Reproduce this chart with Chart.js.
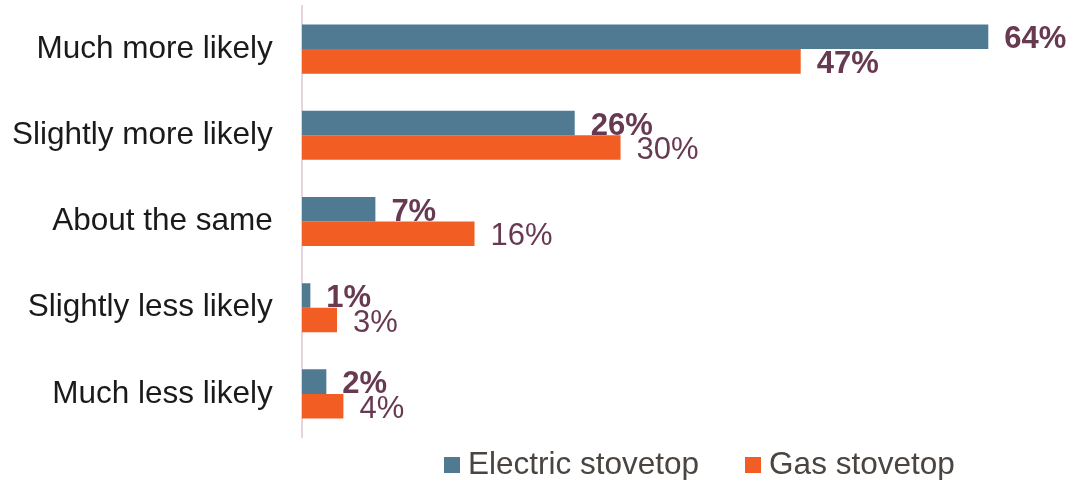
<!DOCTYPE html>
<html>
<head>
<meta charset="utf-8">
<script src="https://cdn.jsdelivr.net/npm/chart.js@4"></script>
<style>
    html, body { margin: 0; padding: 0; background: #fff; }
    .chart-box { width: 1072px; height: 480px; position: relative; }
    .legend { position: absolute; left: 444px; top: 445px; display: flex; align-items: center;
              font-family: "Liberation Sans", Arial, sans-serif; font-size: 31.5px; color: #4A4540; }
    .legend .item { display: flex; align-items: center; margin-right: 46px; }
    .legend .swatch { width: 16px; height: 16px; margin-right: 8px; margin-top: 2px; }
</style>
</head>
<body>
<div class="chart-box"><canvas id="chart"></canvas><div class="legend" id="legend"></div></div>
<script>
// data
const categories = ['Much more likely', 'Slightly more likely', 'About the same', 'Slightly less likely', 'Much less likely'];
const electricValues = [64.4, 25.6, 6.9, 0.8, 2.3];
const gasValues = [46.8, 29.9, 16.2, 3.3, 3.9];
const seriesNames = ['Electric stovetop', 'Gas stovetop'];

const COLORS = ['#507A92', '#F15D22'];
const LABEL_COLOR = '#673A51';
const FONT = '"Liberation Sans", Arial, sans-serif';
// which value labels are drawn bold, per series
const BOLD = [[true, true, true, true, true], [true, false, false, false, false]];

// draws the value label at the end of each bar
const valueLabels = {
    id: 'valueLabels',
    afterDatasetsDraw(chart) {
        const ctx = chart.ctx;
        ctx.save();
        ctx.fillStyle = LABEL_COLOR;
        ctx.textAlign = 'left';
        ctx.textBaseline = 'middle';
        chart.data.datasets.forEach((ds, di) => {
            chart.getDatasetMeta(di).data.forEach((bar, i) => {
                ctx.font = (BOLD[di][i] ? 'bold ' : '') + '31px ' + FONT;
                ctx.fillText(Math.round(ds.data[i]) + '%', bar.x + 16, bar.y + 3);
            });
        });
        ctx.restore();
    }
};

const chart = new Chart(document.getElementById('chart'), {
    type: 'bar',
    data: {
        labels: categories,
        datasets: [
            { label: seriesNames[0], data: electricValues, backgroundColor: COLORS[0] },
            { label: seriesNames[1], data: gasValues, backgroundColor: COLORS[1] }
        ]
    },
    options: {
        indexAxis: 'y',
        responsive: true,
        maintainAspectRatio: false,
        animation: false,
        categoryPercentage: 0.57,
        barPercentage: 1,
        layout: { padding: { top: 6, right: 24, left: 12, bottom: 43 } },
        scales: {
            x: {
                min: 0, max: 70,
                display: false
            },
            y: {
                grid: { display: false, drawTicks: false },
                border: { display: true, color: '#E6D5DC', width: 2 },
                ticks: { color: '#1A1A1A', padding: 29, font: { family: FONT, size: 31.5 } },
                afterFit(scale) {
                    // tick padding otherwise also pads the chart area top/bottom and widens the axis twice
                    scale.paddingTop = 0;
                    scale.paddingBottom = 0;
                    scale.width -= scale.options.ticks.padding;
                }
            }
        },
        plugins: {
            tooltip: { enabled: false },
            legend: { display: false }
        }
    },
    plugins: [valueLabels]
});

// html legend from the chart's own legend items
const legendBox = document.getElementById('legend');
chart.options.plugins.legend.labels.generateLabels(chart).forEach(item => {
    const el = document.createElement('div');
    el.className = 'item';
    el.innerHTML = '<span class="swatch" style="background:' + item.fillStyle + '"></span><span>' + item.text + '</span>';
    legendBox.appendChild(el);
});
</script>
</body>
</html>
